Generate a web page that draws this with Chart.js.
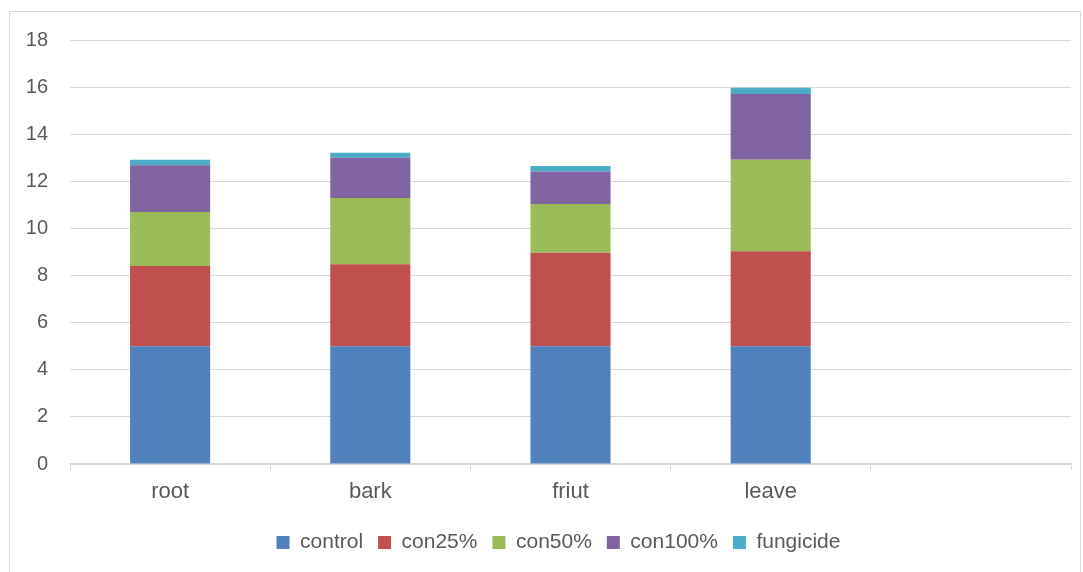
<!DOCTYPE html>
<html>
<head>
<meta charset="utf-8">
<script src="https://cdn.jsdelivr.net/npm/chart.js@4"></script>
<style>
  html, body { margin: 0; padding: 0; background: #fff; }
  #wrap { position: relative; width: 1083px; height: 572px; }
  #frame { position: absolute; left: 9px; top: 11px; right: 2px; bottom: -3px; border: 1px solid #d9d9d9; pointer-events: none; }
</style>
</head>
<body>
<div id="wrap">
  <canvas id="chart" width="1083" height="572"></canvas>
  <div id="frame"></div>
</div>
<script>
// categories (last slot is empty in the original)
const categories = ['root', 'bark', 'friut', 'leave', ''];

// series values
const control   = [5.00, 5.00, 5.00, 5.00, null];
const con25     = [3.41, 3.48, 3.97, 4.03, null];
const con50     = [2.29, 2.81, 2.07, 3.89, null];
const con100    = [1.98, 1.71, 1.38, 2.79, null];
const fungicide = [0.24, 0.21, 0.23, 0.26, null];

const seriesNames = ['control', 'con25%', 'con50%', 'con100%', 'fungicide'];
const seriesColors = ['#4F81BD', '#C0504D', '#9BBB59', '#8064A2', '#4BACC6'];

const yMin = 0, yMax = 18, yStep = 2;

const textColor = '#595959';
const gridColor = '#d9d9d9';
const fontFamily = "'Liberation Sans', Arial, sans-serif";

const datasets = [control, con25, con50, con100, fungicide].map((vals, i) => ({
    label: seriesNames[i],
    data: vals,
    backgroundColor: seriesColors[i],
    borderWidth: 0,
    categoryPercentage: 1.0,
    barPercentage: 0.4
}));

// the legend in the original sits a bit right of centre
const legendShift = {
    id: 'legendShift',
    afterLayout(chart) {
        if (chart.legend) chart.legend.left += 36;
    }
};

const ctx = document.getElementById('chart').getContext('2d');
new Chart(ctx, {
    type: 'bar',
    data: { labels: categories, datasets: datasets },
    plugins: [legendShift],
    options: {
        responsive: false,
        animation: false,
        layout: { padding: { top: 40, left: 10, right: 12, bottom: 9 } },
        plugins: {
            tooltip: { enabled: false },
            legend: {
                position: 'bottom',
                labels: {
                    color: textColor,
                    font: { family: fontFamily, size: 21 },
                    boxWidth: 13,
                    boxHeight: 13,
                    padding: 15
                }
            }
        },
        scales: {
            x: {
                stacked: true,
                afterFit: s => { s.height = 53; },
                border: { display: true, color: gridColor, width: 1.5 },
                grid: { drawOnChartArea: false, drawTicks: true, tickLength: 6, color: gridColor, offset: true },
                ticks: { color: textColor, font: { family: fontFamily, size: 22 }, padding: 9 }
            },
            y: {
                stacked: true,
                min: yMin,
                max: yMax,
                afterFit: s => { s.width = 60; },
                border: { display: false },
                grid: { color: gridColor, drawTicks: false },
                ticks: { stepSize: yStep, color: textColor, font: { family: fontFamily, size: 20 }, padding: 22 }
            }
        }
    }
});
</script>
</body>
</html>
